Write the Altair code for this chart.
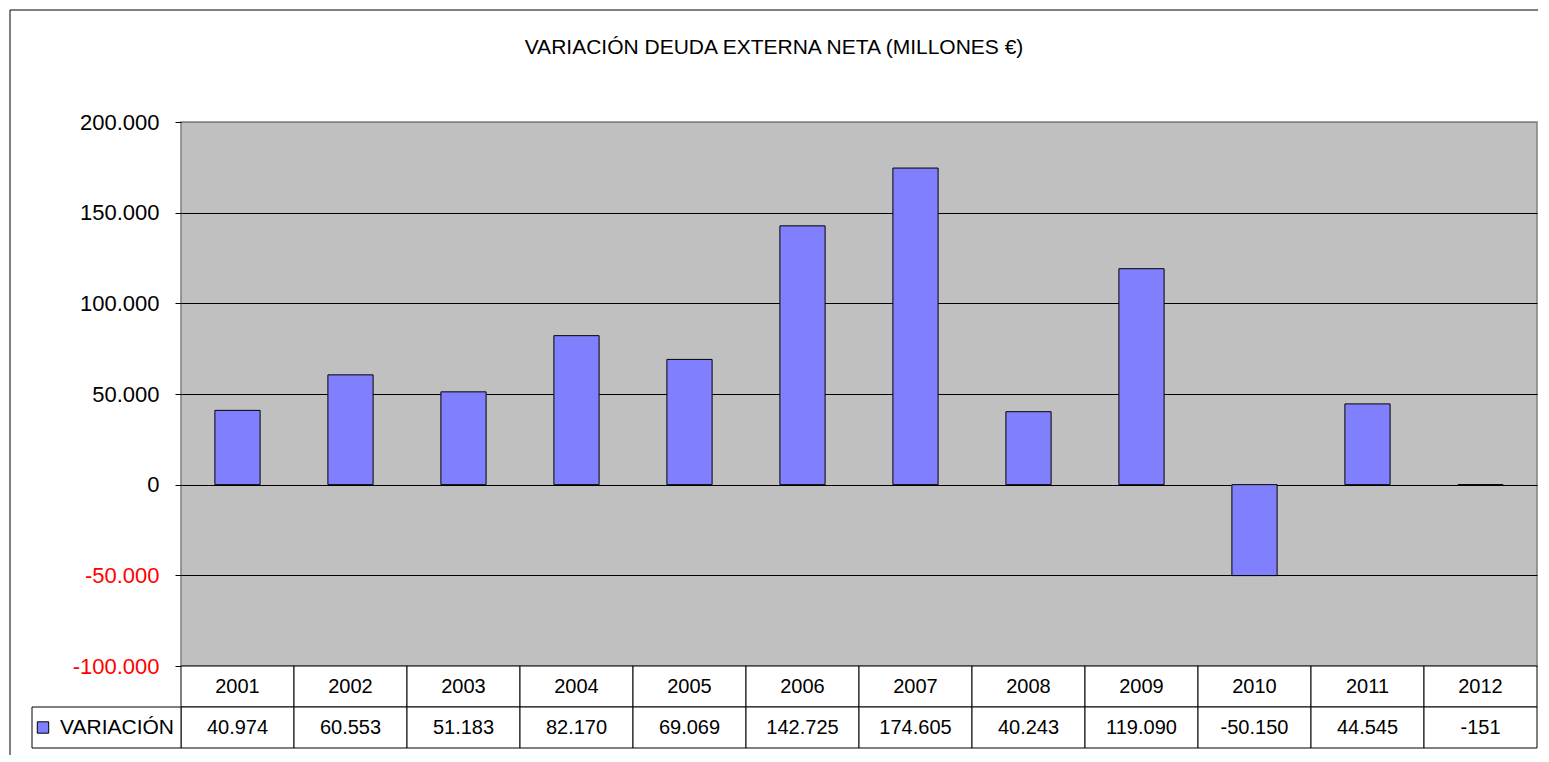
import altair as alt
import pandas as pd

# ---- data ----
years = ["2001", "2002", "2003", "2004", "2005", "2006",
         "2007", "2008", "2009", "2010", "2011", "2012"]
values = [40974, 60553, 51183, 82170, 69069, 142725,
          174605, 40243, 119090, -50150, 44545, -151]
series_name = "VARIACIÓN"
title_text = "VARIACIÓN DEUDA EXTERNA NETA (MILLONES €)"
y_ticks = [-100000, -50000, 0, 50000, 100000, 150000, 200000]
row_order = ["Año", series_name]


def fmt(v):
    return f"{v:,}".replace(",", ".")


bars_df = pd.DataFrame({"year": years, "value": values})
table_df = pd.DataFrame({
    "year": years * 2,
    "row": [row_order[0]] * len(years) + [series_name] * len(years),
    "text": years + [fmt(v) for v in values],
})
legend_df = pd.DataFrame({"row": [series_name], "text": [series_name]})
frame_df = pd.DataFrame({"k": [0]})

FONT = "Liberation Sans"
PLOT_W = 1356
PLOT_H = 544
ROW_H = 41

# ---- bar chart ----
x_bar = alt.X("year:N", sort=years, axis=None,
              scale=alt.Scale(paddingInner=0.6, paddingOuter=0.3))
y_bar = alt.Y(
    "value:Q",
    scale=alt.Scale(domain=[-100000, 200000], nice=False, zero=False),
    axis=alt.Axis(
        values=y_ticks, title=None, domain=False, grid=True,
        gridColor={"condition": {"test": "datum.value == 200000", "value": "#808080"},
                   "value": "black"},
        gridWidth=1, ticks=True, tickColor="black", tickSize=6,
        labelPadding=16, labelFontSize=22, labelFont=FONT,
        labelColor={"condition": {"test": "datum.value < 0", "value": "#FF0000"},
                    "value": "black"},
        labelExpr="replace(replace(format(datum.value, ',d'), ',', '.'), '\u2212', '-')",
    ),
)

bars = alt.Chart(bars_df).mark_bar(
    fill="#8080FF", stroke="black", strokeWidth=1
).encode(x=x_bar, y=y_bar)

frame_left = alt.Chart(frame_df).mark_rule(color="black", strokeWidth=1).encode(
    x=alt.value(-171), y=alt.value(-112), y2=alt.value(633))
frame_top = alt.Chart(frame_df).mark_rule(color="black", strokeWidth=1).encode(
    x=alt.value(-171), x2=alt.value(PLOT_W + 1), y=alt.value(-112))

top = alt.layer(frame_left, frame_top, bars).properties(
    width=PLOT_W, height=PLOT_H,
    view=alt.ViewBackground(fill="#C0C0C0", stroke="#808080", strokeWidth=1.5),
)

# ---- data table ----
x_tab = alt.X("year:N", sort=years, axis=None,
              scale=alt.Scale(paddingInner=0, paddingOuter=0))
y_tab = alt.Y("row:N", sort=row_order, axis=None,
              scale=alt.Scale(paddingInner=0, paddingOuter=0))

cells = alt.Chart(table_df).mark_rect(
    fill="white", stroke="black", strokeWidth=1
).encode(x=x_tab, y=y_tab)
texts = alt.Chart(table_df).mark_text(
    fontSize=20, font=FONT, color="black", align="center", baseline="middle"
).encode(x=x_tab, y=y_tab, text="text:N")
leg_cell = alt.Chart(legend_df).mark_rect(
    fill="white", stroke="black", strokeWidth=1
).encode(x=alt.value(-149), x2=alt.value(0), y=y_tab)
leg_sq = alt.Chart(legend_df).mark_square(
    size=130, fill="#8080FF", stroke="black", strokeWidth=1, opacity=1
).encode(x=alt.value(-138), y=y_tab)
leg_text = alt.Chart(legend_df).mark_text(
    fontSize=21, font=FONT, color="black", align="right", baseline="middle"
).encode(x=alt.value(-7), y=y_tab, text="text:N")

table = alt.layer(cells, leg_cell, leg_sq, leg_text, texts).properties(
    width=PLOT_W, height=2 * ROW_H
)

chart = alt.vconcat(top, table, spacing=0, bounds="flush").resolve_scale(
    x="independent", y="independent"
).properties(
    title=alt.TitleParams(text=title_text, fontSize=21, font=FONT,
                          fontWeight="normal", anchor="middle", frame="bounds",
                          offset=-49, color="black"),
    padding=0,
).configure(font=FONT).configure_view(strokeWidth=0)

chart.save("out.html", embed_options={"renderer": "svg", "actions": False})
